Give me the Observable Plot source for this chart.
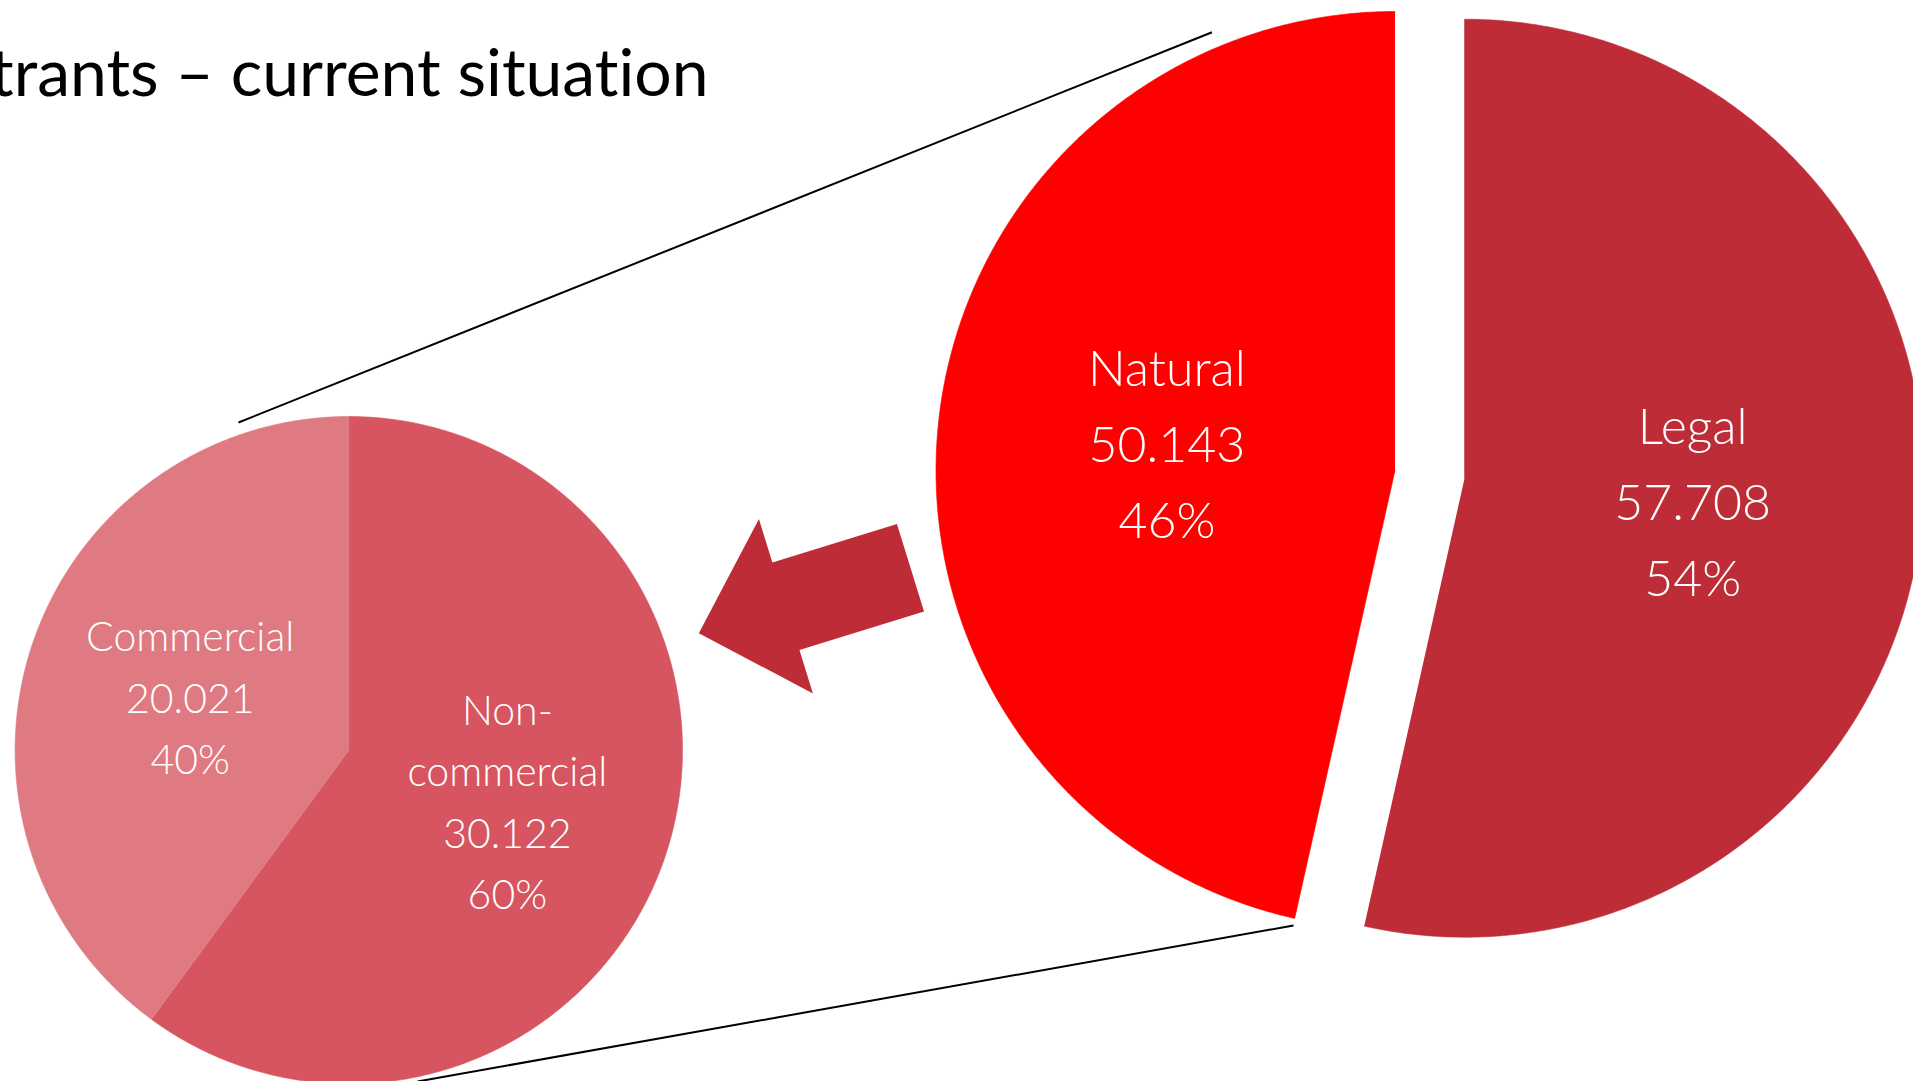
<!DOCTYPE html>
<html><head><meta charset="utf-8">
<script src="https://cdn.jsdelivr.net/npm/d3@7"></script>
<script src="https://cdn.jsdelivr.net/npm/@observablehq/plot@0.6"></script>
<style>html,body{margin:0;padding:0;background:#fff;overflow:hidden}
svg text{font-variant-ligatures:none;font-feature-settings:"liga" 0,"clig" 0;}</style>
</head><body><div id="chart"></div>
<script>
// ---- data ----
const mainCategories = ["Natural", "Legal"];
const mainValues = [50143, 57708];
const mainColors = ["#FF0000", "#BE2D37"];
const subCategories = ["Commercial", "Non-commercial"];
const subLabelLines = [["Commercial"], ["Non-", "commercial"]];
const subValues = [20021, 30122];
const subColors = ["#DF7A82", "#D65560"];
const titleText = "Registrants – current situation";

// ---- layout ----
const W = 1913, H = 1081;
const mainCenter = [1394.5, 470], mainR = 459, explodeIdx = 1, explodeDist = 70;
const subCenter = [348.3, 749.7], subR = 333.7;
const connectors = [
  {x1: 238, y1: 422, x2: 1211.5, y2: 31.7},
  {x1: 417, y1: 1081, x2: 1293, y2: 925}
];
const arrow = {tail: [910, 567.2], dir: [-211.7, 65.5], shaftHalf: 45.8, headHalf: 91.3, headLen: 91.2};

const fmt = d3.formatLocale({decimal: ",", thousands: ".", grouping: [3], currency: ["", ""]}).format(",d");

function buildPie(cats, vals, labelLines, center, r, order, explode) {
  const total = d3.sum(vals);
  const items = cats.map((c, i) => ({cat: c, value: vals[i], idx: i}));
  const ordered = order.map(i => items[i]);
  const arcs = d3.pie().sort(null).value(d => d.value)(ordered);
  const pts = [], labels = [];
  for (const a of arcs) {
    const d = a.data;
    const mid = (a.startAngle + a.endAngle) / 2;
    const off = (explode && explode.idx === d.idx) ? explode.dist : 0;
    const cx = center[0] + off * Math.sin(mid), cy = center[1] - off * Math.cos(mid);
    pts.push({cat: d.cat, x: cx, y: cy});
    const n = Math.max(2, Math.ceil((a.endAngle - a.startAngle) / (Math.PI / 360)));
    for (let k = 0; k <= n; k++) {
      const t = a.startAngle + (a.endAngle - a.startAngle) * k / n;
      pts.push({cat: d.cat, x: cx + r * Math.sin(t), y: cy - r * Math.cos(t)});
    }
    const pct = Math.round(d.value / total * 100) + "%";
    labels.push({
      x: cx + 0.5 * r * Math.sin(mid), y: cy - 0.5 * r * Math.cos(mid),
      text: [...labelLines[d.idx], fmt(d.value), pct].join("\n")
    });
  }
  return {pts, labels};
}

const main = buildPie(mainCategories, mainValues, mainCategories.map(c => [c]), mainCenter, mainR, [1, 0], {idx: explodeIdx, dist: explodeDist});
const sub = buildPie(subCategories, subValues, subLabelLines, subCenter, subR, [1, 0], null);

// arrow polygon
const dl = Math.hypot(arrow.dir[0], arrow.dir[1]);
const u = [arrow.dir[0] / dl, arrow.dir[1] / dl];
const nv = [u[1], -u[0]];
const P = (along, side) => ({cat: "arrow", x: arrow.tail[0] + u[0] * along + nv[0] * side, y: arrow.tail[1] + u[1] * along + nv[1] * side});
const baseAt = dl - arrow.headLen;
const arrowPts = [P(0, arrow.shaftHalf), P(baseAt, arrow.shaftHalf), P(baseAt, arrow.headHalf), P(dl, 0),
  P(baseAt, -arrow.headHalf), P(baseAt, -arrow.shaftHalf), P(0, -arrow.shaftHalf)];

const font = "Lato, 'Open Sans', sans-serif";

const chart = Plot.plot({
  width: W, height: H,
  margin: 0,
  x: {domain: [0, W], range: [0, W], axis: null},
  y: {domain: [0, H], range: [0, H], axis: null},
  color: {domain: [...mainCategories, ...subCategories, "arrow"], range: [...mainColors, ...subColors, mainColors[1]]},
  style: {background: "white", overflow: "hidden"},
  marks: [
    Plot.link(connectors, {x1: "x1", y1: "y1", x2: "x2", y2: "y2", stroke: "black", strokeWidth: 2}),
    Plot.line(sub.pts, {x: "x", y: "y", z: "cat", fill: "cat", stroke: "cat", strokeWidth: 0.6, curve: "linear"}),
    Plot.line(main.pts, {x: "x", y: "y", z: "cat", fill: "cat", stroke: "cat", strokeWidth: 0.6, curve: "linear"}),
    Plot.line(arrowPts, {x: "x", y: "y", z: "cat", fill: "cat", stroke: "none", curve: "linear"}),
    Plot.text(main.labels, {x: "x", y: "y", dy: -8, text: "text", fill: "white", fontSize: 50, lineHeight: 1.52, lineAnchor: "middle", fontFamily: font, fontWeight: 300}),
    Plot.text(sub.labels, {x: "x", y: "y", dy: -5, text: "text", fill: "white", fontSize: 41, lineHeight: 1.5, lineAnchor: "middle", fontFamily: font, fontWeight: 300}),
    Plot.text([titleText], {x: () => 708, y: () => 95, text: d => d, textAnchor: "end", lineAnchor: "bottom", fontSize: 66, fill: "black", fontFamily: font, fontWeight: 400})
  ]
});
document.getElementById("chart").appendChild(chart);
</script>
</body></html>
